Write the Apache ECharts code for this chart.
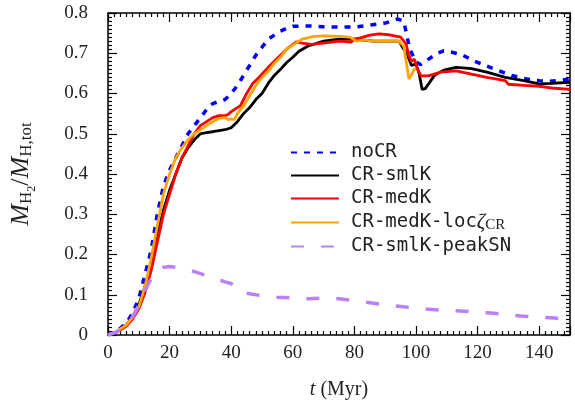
<!DOCTYPE html>
<html>
<head>
<meta charset="utf-8">
<script src="https://cdn.jsdelivr.net/npm/echarts@6/dist/echarts.min.js"></script>
<style>
  html, body { margin: 0; padding: 0; background: #fff; }
  #chart { width: 575px; height: 407px; }
</style>
</head>
<body>
<div id="chart"></div>
<script>
// t (Myr), H2 mass fraction
const noCR = [[0,0],[3,0.01],[6,0.03],[8,0.055],[10,0.09],[12,0.15],[14,0.21],[16,0.3],[18,0.37],[20,0.41],[22,0.44],[24,0.47],[26,0.5],[28,0.52],[30,0.54],[32,0.56],[34,0.575],[36,0.58],[38,0.585],[40,0.6],[42,0.62],[44,0.645],[46,0.67],[48,0.695],[50,0.715],[52,0.735],[54,0.745],[56,0.755],[58,0.762],[60,0.767],[65,0.768],[70,0.766],[75,0.765],[80,0.765],[85,0.77],[90,0.775],[94,0.785],[96,0.78],[97,0.745],[98,0.71],[100,0.678],[101.5,0.672],[103,0.68],[105,0.69],[107,0.7],[109,0.706],[112,0.702],[115,0.696],[119,0.68],[123,0.668],[127,0.656],[131,0.645],[136,0.636],[140,0.632],[143,0.63],[147,0.633],[150,0.636]];
const smlK = [[0,0],[3,0.008],[6,0.025],[8,0.045],[10,0.075],[12,0.12],[14,0.18],[16,0.25],[18,0.31],[20,0.36],[22,0.4],[24,0.44],[26,0.465],[28,0.485],[30,0.5],[32,0.503],[34,0.505],[36,0.508],[38,0.51],[40,0.515],[42,0.53],[44,0.55],[46,0.565],[48,0.585],[50,0.6],[52,0.625],[54,0.645],[56,0.66],[58,0.677],[60,0.69],[62,0.705],[65,0.718],[70,0.73],[75,0.735],[80,0.735],[86,0.73],[90,0.73],[94.5,0.73],[96,0.71],[97,0.7],[98.5,0.67],[100,0.673],[101,0.65],[102,0.61],[103,0.612],[106,0.645],[109,0.658],[113,0.665],[118,0.662],[123,0.653],[129,0.64],[135,0.632],[140,0.624],[144,0.625],[150,0.628]];
const medK = [[0,0],[3,0.008],[6,0.022],[8,0.04],[10,0.065],[12,0.105],[14,0.16],[16,0.23],[18,0.3],[20,0.35],[22,0.4],[24,0.44],[26,0.47],[28,0.5],[30,0.52],[32,0.53],[34,0.54],[36,0.545],[38,0.545],[39,0.548],[40,0.555],[41,0.56],[43,0.57],[45,0.6],[47,0.625],[49,0.64],[52,0.665],[54,0.68],[56,0.695],[58,0.71],[61,0.728],[63,0.725],[66,0.722],[70,0.725],[75,0.73],[79,0.728],[80,0.735],[82,0.738],[85,0.745],[88,0.748],[91,0.746],[95,0.74],[96.8,0.723],[97.5,0.7],[98.4,0.68],[99.5,0.685],[100.5,0.66],[101.6,0.644],[104,0.644],[108,0.653],[113,0.656],[118,0.648],[123,0.64],[129,0.632],[130,0.623],[135,0.62],[140,0.618],[145,0.613],[150,0.61]];
const medKloc = [[0,0],[3,0.01],[6,0.025],[8,0.045],[10,0.07],[12,0.12],[14,0.19],[16,0.27],[18,0.35],[20,0.4],[22,0.44],[24,0.465],[26,0.485],[28,0.5],[30,0.51],[32,0.52],[34,0.53],[36,0.538],[38,0.54],[39,0.535],[40,0.537],[41,0.535],[42,0.55],[44,0.569],[46,0.595],[48,0.62],[50,0.64],[52,0.655],[54,0.675],[56,0.69],[58,0.71],[60,0.72],[63,0.735],[67,0.742],[70,0.743],[75,0.742],[78.5,0.74],[80.7,0.73],[83,0.733],[86,0.73],[90,0.73],[94.5,0.73],[96,0.718],[97,0.67],[97.7,0.636],[98.4,0.645],[99.4,0.66],[100,0.662]];
const smlKpeakSN = [[0,0],[3,0.008],[6,0.025],[8,0.045],[10,0.075],[12,0.11],[14,0.14],[16,0.16],[18,0.168],[20,0.17],[23,0.167],[27,0.16],[31,0.15],[35,0.14],[38,0.132],[40,0.128],[42,0.112],[45,0.104],[49.5,0.098],[55,0.094],[60,0.092],[65,0.09],[71,0.092],[75,0.09],[80,0.085],[85,0.08],[90,0.075],[96,0.07],[102,0.065],[108,0.062],[113,0.06],[118,0.058],[123.5,0.055],[129,0.051],[134,0.047],[140,0.044],[145,0.042],[150,0.038]];

const names = ['noCR', 'CR-smlK', 'CR-medK', 'CR-medK-loc', 'CR-smlK-peakSN'];

const serif = 'Liberation Serif';
const mono = 'DejaVu Sans Mono';

function xAx(pos) {
  return {
    type: 'value', position: pos, min: 0, max: 150, interval: 20,
    axisLine: { show: true, onZero: false, lineStyle: { color: '#000', width: 1.5 } },
    axisTick: { show: true, inside: true, length: 9, lineStyle: { color: '#000', width: 1.2 } },
    minorTick: { show: true, splitNumber: 10, length: 4, lineStyle: { color: '#000', width: 1.2 } },
    axisLabel: {
      show: pos === 'bottom', margin: 9, fontFamily: serif, fontSize: 19, color: '#222',
      showMaxLabel: false
    },
    splitLine: { show: false }
  };
}
function yAx(pos) {
  return {
    type: 'value', position: pos, min: 0, max: 0.8, interval: 0.1,
    axisLine: { show: true, onZero: false, lineStyle: { color: '#000', width: 1.5 } },
    axisTick: { show: true, inside: true, length: 9, lineStyle: { color: '#000', width: 1.2 } },
    minorTick: { show: true, splitNumber: 10, length: 4, lineStyle: { color: '#000', width: 1.2 } },
    axisLabel: {
      show: pos === 'left', margin: 20, fontFamily: serif, fontSize: 19, color: '#222',
      formatter: v => (v === 0 ? '0' : v.toFixed(1))
    },
    splitLine: { show: false }
  };
}

const xAxes = [xAx('bottom'), xAx('top')];
xAxes[0].name = '{i|t} (Myr)';
xAxes[0].nameLocation = 'middle';
xAxes[0].nameGap = 45;
xAxes[0].nameTextStyle = {
  fontFamily: serif, fontSize: 20, color: '#222',
  rich: { i: { fontFamily: serif, fontStyle: 'italic', fontSize: 20, color: '#222' } }
};

const yAxes = [yAx('left'), yAx('right')];
yAxes[0].name = '{m|M}{s|H}{ss|2}{n|/}{m|M}{s|H,tot}';
yAxes[0].nameLocation = 'middle';
yAxes[0].nameRotate = 90;
yAxes[0].nameGap = 70;
yAxes[0].nameTextStyle = {
  color: '#222',
  rich: {
    m: { fontFamily: serif, fontStyle: 'italic', fontSize: 26, color: '#222' },
    n: { fontFamily: serif, fontSize: 26, color: '#222' },
    s: { fontFamily: serif, fontSize: 17, color: '#222', padding: [12, 0, 0, 0] },
    ss: { fontFamily: serif, fontSize: 12, color: '#222', padding: [22, 0, 0, 0] }
  }
};

const option = {
  animation: false,
  backgroundColor: '#fff',
  grid: { left: 106, right: 5, top: 13, bottom: 72 },
  xAxis: xAxes,
  yAxis: yAxes,
  legend: {
    orient: 'vertical', left: 285, top: 138,
    itemWidth: 48, itemHeight: 12, itemGap: 4,
    itemStyle: { opacity: 0 },
    data: names,
    formatter: n => (n === 'CR-medK-loc' ? 'CR-medK-loc{z|ζ}{sub|CR}' : n),
    textStyle: {
      fontFamily: mono, fontSize: 19, lineHeight: 19, color: '#222', padding: [0, 0, 0, 7],
      rich: {
        z: { fontFamily: serif, fontStyle: 'italic', fontSize: 21, lineHeight: 19, color: '#222' },
        sub: { fontFamily: serif, fontSize: 15, lineHeight: 19, color: '#222', padding: [6, 0, 0, 0] }
      }
    }
  },
  series: [
    { name: names[0], data: noCR, color: '#0000ff', lineStyle: { width: 3.5, type: [6, 7] } },
    { name: names[1], data: smlK, color: '#000000', lineStyle: { width: 2.8 } },
    { name: names[2], data: medK, color: '#ff0000', lineStyle: { width: 2.8 } },
    { name: names[3], data: medKloc, color: '#ffa500', lineStyle: { width: 2.8 } },
    { name: names[4], data: smlKpeakSN, color: '#bb80f8', lineStyle: { width: 3.5, type: [13, 17] } }
  ].map(s => Object.assign({ type: 'line', symbol: 'none', xAxisIndex: 0, yAxisIndex: 0 }, s))
};

const chart = echarts.init(document.getElementById('chart'));
chart.setOption(option);
window.addEventListener('resize', () => chart.resize());
</script>
</body>
</html>
